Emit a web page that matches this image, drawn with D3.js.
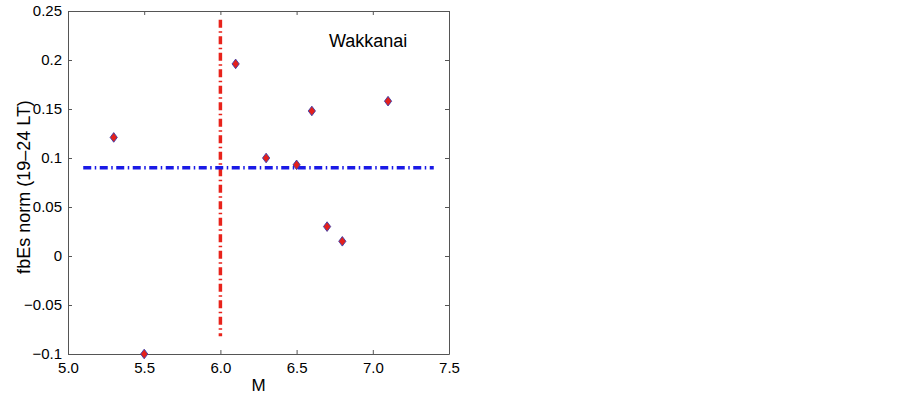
<!DOCTYPE html>
<html>
<head>
<meta charset="utf-8">
<script src="https://cdn.jsdelivr.net/npm/d3@7"></script>
<style>
  body { margin: 0; background: #fff; }
  svg text { font-family: "Liberation Sans", Arial, sans-serif; fill: #000; }
</style>
</head>
<body>
<svg id="chart" width="902" height="399"></svg>
<script>
// magnitude M vs normalized fbEs
const magnitudes = [5.3, 5.5, 6.1, 6.3, 6.5, 6.6, 6.7, 6.8, 7.1];
const fbEsNorm = [0.121, -0.1, 0.196, 0.1, 0.093, 0.148, 0.03, 0.015, 0.158];
const xTicks = [5.0, 5.5, 6.0, 6.5, 7.0, 7.5];
const yTicks = [0.25, 0.2, 0.15, 0.1, 0.05, 0, -0.05, -0.1];
const thresholdM = 6.0;
const thresholdSpan = [-0.082, 0.241];
const meanLevel = 0.09;
const meanSpan = [5.1, 7.4];

const margin = { top: 11, left: 68 };
const innerWidth = 381;
const innerHeight = 343;

const svg = d3.select("#chart");
const g = svg.append("g").attr("transform", `translate(${margin.left},${margin.top})`);

const x = d3.scaleLinear().domain([5.0, 7.5]).range([0, innerWidth]);
const y = d3.scaleLinear().domain([-0.1, 0.25]).range([innerHeight, 0]);

const fmtY = d => (d < 0 ? "\u2212" : "") + d3.format("")(Math.abs(d));
const axisColor = "#555";

// axes with inward ticks on all four sides
const axisBottomG = g.append("g").attr("transform", `translate(0,${innerHeight})`)
  .call(d3.axisBottom(x).tickValues(xTicks).tickSizeInner(-4).tickSizeOuter(0).tickPadding(8).tickFormat(d3.format(".1f")));
const axisLeftG = g.append("g")
  .call(d3.axisLeft(y).tickValues(yTicks).tickSizeInner(-4).tickSizeOuter(0).tickPadding(6).tickFormat(fmtY));
const axisTopG = g.append("g")
  .call(d3.axisTop(x).tickValues(xTicks).tickSizeInner(-4).tickSizeOuter(0).tickFormat(""));
const axisRightG = g.append("g").attr("transform", `translate(${innerWidth},0)`)
  .call(d3.axisRight(y).tickValues(yTicks).tickSizeInner(-4).tickSizeOuter(0).tickFormat(""));

// top/right carry ticks only
axisTopG.selectAll("text").remove();
axisRightG.selectAll("text").remove();

[axisBottomG, axisLeftG, axisTopG, axisRightG].forEach(a => {
  a.select(".domain").attr("stroke", axisColor).attr("stroke-width", 1);
  a.selectAll(".tick line").attr("stroke", axisColor);
  a.selectAll("text").style("font-size", "15px").attr("fill", "#000");
});

// threshold lines
g.append("line")
  .attr("x1", x(thresholdM)).attr("x2", x(thresholdM))
  .attr("y1", y(thresholdSpan[1])).attr("y2", y(thresholdSpan[0]))
  .attr("stroke", "#e8231b").attr("stroke-width", 3.5)
  .attr("stroke-dasharray", "8,3.5,1.5,3.5");

g.append("line")
  .attr("x1", x(meanSpan[0])).attr("x2", x(meanSpan[1]))
  .attr("y1", y(meanLevel)).attr("y2", y(meanLevel))
  .attr("stroke", "#1a1ae6").attr("stroke-width", 3.5)
  .attr("stroke-dasharray", "8,3.5,1.5,3.5");

// diamond markers
const points = magnitudes.map((m, i) => ({ m, v: fbEsNorm[i] }));
g.selectAll(".pt")
  .data(points)
  .enter()
  .append("path")
  .attr("class", "pt")
  .attr("transform", d => `translate(${x(d.m)},${y(d.v)})`)
  .attr("d", "M0,-4.8L3.6,0L0,4.8L-3.6,0Z")
  .attr("fill", "#e3201b")
  .attr("stroke", "#3a3aa8")
  .attr("stroke-width", 0.9);

// labels
g.append("text")
  .attr("x", 261).attr("y", 36)
  .style("font-size", "18px")
  .text("Wakkanai");

svg.append("text")
  .attr("x", margin.left + x(6.25)).attr("y", 391)
  .attr("text-anchor", "middle")
  .style("font-size", "17px")
  .text("M");

svg.append("text")
  .attr("transform", `translate(30,187) rotate(-90)`)
  .attr("text-anchor", "middle")
  .style("font-size", "18px")
  .text("fbEs norm (19\u201324 LT)");
</script>
</body>
</html>
